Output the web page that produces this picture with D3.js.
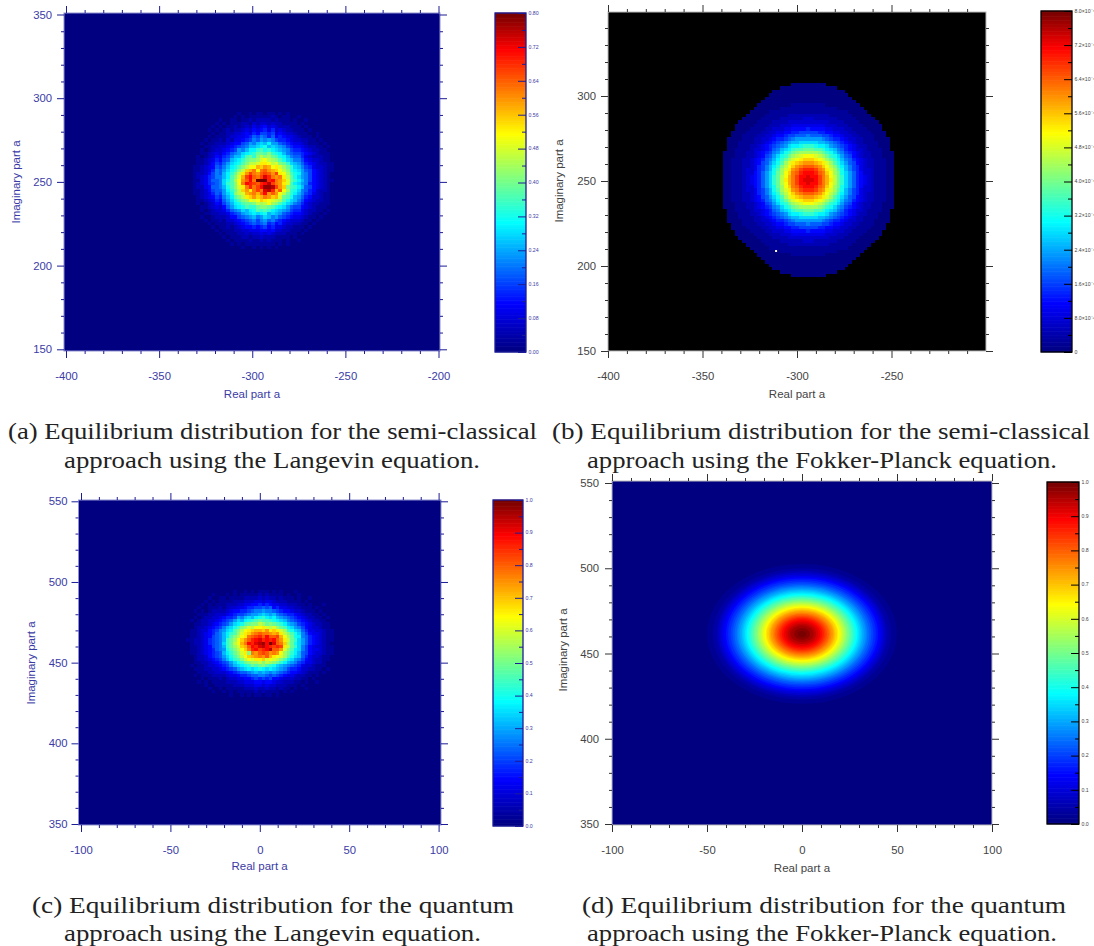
<!DOCTYPE html>
<html>
<head>
<meta charset="utf-8">
<script src="https://d3js.org/d3.v7.min.js"></script>
<style>
body { margin: 0; background: #fff; }
text { font-family: "Liberation Sans", Arial, sans-serif; }
.caption { font-family: "Liberation Serif", serif; fill: #222; }
</style>
</head>
<body>
<svg id="fig" width="1094" height="946"></svg>
<script>
const width = 1094;
const height = 946;

// rainbow colour table (fraction of bar, colour)
const jetStops = [0, 0.14, 0.38, 0.64, 0.89, 1];
const jetColors = ["#000080", "#0000ff", "#00ffff", "#ffff00", "#ff0000", "#700000"];

const xTicksSemi = [-400, -350, -300, -250, -200];
const yTicksSemi = [150, 200, 250, 300, 350];
const xTicksQuant = [-100, -50, 0, 50, 100];
const yTicksQuant = [350, 400, 450, 500, 550];
// plot (b) has no -200 and no 350 tick
const xTicksB = [-400, -350, -300, -250];
const yTicksB = [150, 200, 250, 300];

const barLabelsA = ["0.00", "0.08", "0.16", "0.24", "0.32", "0.40", "0.48", "0.56", "0.64", "0.72", "0.80"];
const barLabelsB = ["0", "8.0×10⁻⁵", "1.6×10⁻⁴", "2.4×10⁻⁴", "3.2×10⁻⁴", "4.0×10⁻⁴", "4.8×10⁻⁴", "5.6×10⁻⁴", "6.4×10⁻⁴", "7.2×10⁻⁴", "8.0×10⁻⁴"];
const barLabelsCD = ["0.0", "0.1", "0.2", "0.3", "0.4", "0.5", "0.6", "0.7", "0.8", "0.9", "1.0"];

// Histogram counts, one char per bin, base 36 (0 = bottom of colour bar, z = top)
const gridA = [
"0000000000" + "0000100101" + "1011010100" + "00000000000",
"0000000000" + "0001010111" + "1112101100" + "10000000000",
"0000000001" + "0011011212" + "2221211101" + "00100000000",
"0000000010" + "1011122132" + "3323221111" + "01000000000",
"0000000101" + "0112123243" + "4534322211" + "10100000000",
"0000001010" + "1212234354" + "5646343221" + "11010000000",
"0000000101" + "1223345465" + "7767454332" + "11100100000",
"0000001011" + "1233445687" + "9868565443" + "21110100000",
"0000010112" + "1324456798" + "a9a9766543" + "32211010000",
"0000101122" + "2345578a9b" + "cbdaa87654" + "43211101000",
"0000011223" + "3456789bbc" + "debcba9765" + "54322110100",
"0000101233" + "4567a9bddf" + "gefdcba976" + "65432211000",
"0000112343" + "5689acdefh" + "hgifedb987" + "76543211100",
"0001012354" + "679bbdghfi" + "kijhgedb98" + "86432221100",
"0001123465" + "78bcdfhiij" + "lmkjigecb9" + "97543321100",
"0001123576" + "8acdegikkl" + "nnmklihfcb" + "a8654322110",
"0011234587" + "9bdegikmmp" + "oqpmnljhfc" + "b9764332110",
"0011234698" + "acefikoprn" + "rsqpomkifd" + "ca875432110",
"0012235798" + "bdfhknqtrq" + "stsqtnmjge" + "da975432100",
"0012346799" + "bdgilptvsr" + "twurqrnkhe" + "ca975432100",
"0011346889" + "cegjmqsvrz" + "zzuvrqolhf" + "db975432110",
"0012346789" + "cfgimrvuts" + "uvxtrqnlgd" + "ca965432100",
"0012245889" + "begilnrurt" + "vyyxtqoigf" + "db875432100",
"0011235788" + "adfhkoqnrt" + "rwxupsmjfe" + "c9865322100",
"0011234687" + "aceiklpqrp" + "svqsqmkhfd" + "b9764321100",
"0001234576" + "9bdgiknoqo" + "prqoplhgeb" + "a8653321100",
"0001123465" + "8acegijmlm" + "onmlkjgecb" + "97543221100",
"0001012354" + "79bdeghhik" + "jkmjigecb9" + "86432211100",
"0000112343" + "58acdegffh" + "iihgedca87" + "75432111000",
"0000101233" + "4689acbdeg" + "fgfdcba976" + "64322110100",
"0000011223" + "34678abcdc" + "debcba8765" + "54321101000",
"0000100122" + "2355789ab9" + "acb9a87654" + "43211010000",
"0000010112" + "1334567897" + "9a89765433" + "32110100000",
"0000001011" + "1223456787" + "8967564332" + "21101000000",
"0000000101" + "1212345565" + "6756443221" + "11010000000",
"0000000010" + "1112233444" + "5545332211" + "10100000000",
"0000000001" + "0111223233" + "4343222111" + "01000000000",
"0000000000" + "1011122122" + "3222111101" + "00000000000",
"0000000000" + "0101111211" + "2121110100" + "10000000000",
"0000000000" + "0010101111" + "1111010100" + "00000000000",
"0000000000" + "0000010010" + "1010100000" + "00000000000"
];

const gridC = [
"0000000000" + "0001001010" + "1110101000" + "10000000000",
"0000000100" + "0101011111" + "2121111010" + "01000000000",
"0000001001" + "1011112222" + "3232212111" + "01001000000",
"0000010101" + "1112223334" + "4344322211" + "11010000000",
"0000101011" + "1222334455" + "6565443322" + "21101000100",
"0001001112" + "1233445667" + "7878564433" + "22111010000",
"0010101222" + "2345566789" + "9a99876554" + "33211101000",
"0001112233" + "34567789aa" + "bcbab98766" + "54322110100",
"0010122334" + "5667a9bcbd" + "efdcdba987" + "65432211010",
"0101223345" + "678acbdefg" + "hggfedcb98" + "76543221100",
"0011223456" + "78acdeghii" + "kjhihgfdba" + "97654322110",
"0012234567" + "9bcegijlkm" + "mnlkljhgdc" + "a9754332110",
"0112335679" + "acdgikmnop" + "poqnonljfe" + "cb864433211",
"0112345689" + "bdfgjlnoqr" + "srrqpqnkig" + "ec975443211",
"0112345789" + "bdgikmnrst" + "usvsstpmjh" + "ed986543211",
"1122346789" + "bfhjmoqsuv" + "wuvuvsqnkh" + "fca86543211",
"0122346789" + "cfhkmprvuw" + "xyvzwsrojh" + "eca86543210",
"0112345789" + "bfhjlopsvu" + "wxvututnkh" + "fc975433211",
"0112345689" + "aegikmoruv" + "tuvxssqlig" + "dc975443211",
"0112345678" + "bdfhjlnirq" + "stsqrqmjhf" + "db875433211",
"0012235678" + "acegikmopq" + "rqspnmljge" + "cb864332110",
"0012234567" + "9bdfgikmln" + "nolmlkigdc" + "a9754322110",
"0011223456" + "78acefhijj" + "kikjihfdba" + "97644322100",
"0101123345" + "679bcdefhg" + "higfecba98" + "76433211100",
"0011122334" + "5678abcdcd" + "edcdcba976" + "65332211010",
"0001112233" + "34567889ab" + "aba9a98765" + "54321110100",
"0010111222" + "2344566788" + "9987876544" + "32211010000",
"0000101112" + "1233445567" + "6767554333" + "22110100000",
"0001010111" + "1222334445" + "5455433222" + "11010010000",
"0000010011" + "1112223334" + "4343322211" + "10100000000",
"0000001001" + "0111112223" + "2232212110" + "10010000000",
"0000000100" + "1010111112" + "1211110101" + "00000000000",
"0000000000" + "0010010101" + "1011010000" + "00000000000"
];

// Plot (b) looks mirror symmetric, so only one quarter: first char is the
// centre column, first row the centre row, '.' is outside the solved region
const quarterB = [
"wwvtrpnkhfca86543211100",
"wvvtrpmkhfca86543211100",
"vvusromjheca86533211100",
"uutrqnljgeb976433211100",
"ssrqomkifdb976432211100",
"qqponljgeca875432211100",
"oonmljhfdb9865432211100",
"mmlkjhfeca8754322111000",
"jjjihfeca97654322111000",
"hhggfdcb98654332111100.",
"ffeddca987654322111000.",
"cccbba9876543221111000.",
"aaaa987665433221110000.",
"988877655433221111000..",
"777665544332211110000..",
"65555443332211110000...",
"44444333222111100000...",
"3333332222111100000....",
"332222221111100000.....",
"22222211111100000......",
"1111111111100000.......",
"111111110000000........",
"11111000000000.........",
"0000000000000..........",
"000000000000...........",
"00000000000............",
"0000000000.............",
"00000000...............",
"00000.................."
];

// Plot (d) is smooth: contour levels with their half widths in a and half heights
const ringLevels = [0.02,0.04,0.06,0.08,0.10,0.12,0.14,0.16,0.18,0.20,0.22,0.24,0.26,0.28,0.30,0.32,0.34,0.36,0.38,0.40,0.42,0.44,0.46,0.48,0.50,0.52,0.54,0.56,0.58,0.60,0.62,0.64,0.66,0.68,0.70,0.72,0.74,0.76,0.78,0.80,0.82,0.84,0.86,0.88,0.90,0.92,0.94,0.96,0.98,0.995];
const ringRx = [50,47,45,44,43,42,41,40,38.9,37.6,36.5,35.5,34.4,33.6,32.6,31.7,30.9,30.0,29.2,28.4,27.7,26.9,26.3,25.4,24.8,23.9,23.3,22.7,21.8,21.2,20.6,19.7,19.1,18.5,17.6,17.0,16.4,15.5,14.7,14.1,13.2,12.4,11.6,10.7,9.7,8.6,7.4,6.1,4.2,2.1];
const ringRy = [41,38.5,37,36,35,34,33.2,32.5,31.5,30.4,29.6,28.7,27.9,27.2,26.4,25.7,25.0,24.3,23.6,23.0,22.4,21.8,21.3,20.6,20.1,19.4,18.9,18.4,17.7,17.2,16.7,16.0,15.5,15.0,14.3,13.8,13.3,12.6,11.9,11.4,10.7,10.0,9.4,8.7,7.8,7.0,6.0,4.9,3.4,1.7];
const ringCenter = [0, 461.5];

const captionsA = ["(a) Equilibrium distribution for the semi-classical", "approach using the Langevin equation."];
const captionsB = ["(b) Equilibrium distribution for the semi-classical", "approach using the Fokker-Planck equation."];
const captionsC = ["(c) Equilibrium distribution for the quantum", "approach using the Langevin equation."];
const captionsD = ["(d) Equilibrium distribution for the quantum", "approach using the Fokker-Planck equation."];

const BLUE = {tick: "#1c1c96", text: "#3b3ba6", edge: "#8f8fd0", barEdge: "#1c1c96"};
const GREY = {tick: "#333333", text: "#444444", edge: "#bbbbbb", barEdge: "#000000"};

const svg = d3.select("#fig");

const jet = d3.scaleLinear().domain(jetStops).range(jetColors).clamp(true);

function minorTicks(domain)
{
    return d3.range(domain[0], domain[1] + 1, 10).filter(v => v % 50 !== 0);
}

function makePanel(p)
{
    let x = d3.scaleLinear().domain(p.xDomain).range(p.xRange);
    let y = d3.scaleLinear().domain(p.yDomain).range(p.yRange);
    let g = svg.append("g");
    let [left, top, right, bottom] = p.box;

    g.append("rect").attr("x", left).attr("y", top)
        .attr("width", right - left).attr("height", bottom - top)
        .attr("fill", p.background);

    if (p.grid)
    {
        let cells = [];
        p.grid.forEach((row, r) => {
            for (let c = 0; c < row.length; c++)
            {
                if (row[c] !== ".")
                {
                    cells.push({a: p.xStart + 2 * c, b: p.yTop - 2 * r, v: parseInt(row[c], 36) / 35});
                }
            }
        });
        g.selectAll(null).data(cells).join("rect")
            .attr("x", d => x(d.a))
            .attr("y", d => y(d.b))
            .attr("width", x(2) - x(0) + 0.4)
            .attr("height", y(0) - y(2) + 0.4)
            .attr("fill", d => jet(d.v))
            .attr("shape-rendering", "crispEdges");
    }

    if (p.rings)
    {
        g.selectAll(null).data(ringLevels).join("ellipse")
            .attr("cx", x(ringCenter[0]))
            .attr("cy", y(ringCenter[1]))
            .attr("rx", (d, i) => x(ringRx[i]) - x(0))
            .attr("ry", (d, i) => y(0) - y(ringRy[i]))
            .attr("fill", d => jet(d));
    }

    if (p.specks)
    {
        g.selectAll(null).data(p.specks).join("rect")
            .attr("x", d => x(d[0])).attr("y", d => y(d[1]))
            .attr("width", 2).attr("height", 2).attr("fill", "#fff");
    }

    g.append("rect").attr("x", left).attr("y", top)
        .attr("width", right - left).attr("height", bottom - top)
        .attr("fill", "none").attr("stroke", p.style.edge).attr("stroke-width", 1);

    // axes: major ticks first, then the small ones with no labels
    let xMinor = minorTicks(p.xDomain);
    let yMinor = minorTicks(p.yDomain);
    let drawAxis = (make, scale, major, minor, tx, ty, pad) =>
    {
        let a = g.append("g").attr("transform", `translate(${tx},${ty})`);
        a.call(make(scale).tickValues(major).tickSize(7).tickPadding(pad)
            .tickFormat(pad ? d => String(d) : ""));
        let b = g.append("g").attr("transform", `translate(${tx},${ty})`);
        b.call(make(scale).tickValues(minor).tickSize(3).tickFormat(""));
        [a, b].forEach(s => {
            s.select(".domain").remove();
            s.selectAll("line").attr("stroke", p.style.tick);
            s.selectAll("text").attr("fill", p.style.text).attr("font-size", 11.3)
                .attr("font-family", '"Liberation Sans", Arial, sans-serif');
        });
    };
    drawAxis(d3.axisBottom, x, p.xTicks, xMinor, 0, bottom, 13.5);
    drawAxis(d3.axisTop, x, p.xTicks, xMinor, 0, top, 0);
    drawAxis(d3.axisLeft, y, p.yTicks, yMinor, left, 0, p.padY);
    drawAxis(d3.axisRight, y, p.yTicks, yMinor, right, 0, 0);

    g.append("text").attr("x", p.xLabel[0]).attr("y", p.xLabel[1])
        .attr("text-anchor", "middle").attr("font-size", 11.5).attr("fill", p.style.text)
        .text("Real part a");
    g.append("text")
        .attr("transform", `translate(${p.yLabel[0]},${p.yLabel[1]}) rotate(-90)`)
        .attr("text-anchor", "middle").attr("font-size", 11.5).attr("fill", p.style.text)
        .text("Imaginary part a");

    makeBar(p);

    p.captions.forEach((t, i) => {
        svg.append("text").attr("class", "caption")
            .attr("x", p.capX[i][0]).attr("y", p.capY[i])
            .attr("textLength", p.capX[i][1] - p.capX[i][0])
            .attr("lengthAdjust", "spacingAndGlyphs")
            .attr("font-size", 22.5)
            .text(t);
    });
}

function makeBar(p)
{
    let [left, top, right, bottom] = p.bar;
    let g = svg.append("g");
    let barY = d3.scaleLinear().domain([0, 1]).range([bottom, top]);
    let slices = d3.range(0, 1, 0.004);
    g.selectAll(null).data(slices).join("rect")
        .attr("x", left).attr("width", right - left)
        .attr("y", d => barY(d + 0.004) - 0.3)
        .attr("height", barY(0) - barY(0.004) + 0.6)
        .attr("fill", d => jet(d));
    g.append("rect").attr("x", left).attr("y", top)
        .attr("width", right - left).attr("height", bottom - top)
        .attr("fill", "none").attr("stroke", p.style.barEdge).attr("stroke-width", 1.3);

    let majors = p.barLabels.map((d, i) => i / 10);
    let minors = d3.range(0.05, 1, 0.1);
    let a = g.append("g").attr("transform", `translate(${right},0)`);
    a.call(d3.axisLeft(barY).tickValues(majors).tickSize(8).tickFormat(""));
    let b = g.append("g").attr("transform", `translate(${right},0)`);
    b.call(d3.axisLeft(barY).tickValues(minors).tickSize(4).tickFormat(""));
    [a, b].forEach(s => {
        s.select(".domain").remove();
        s.selectAll("line").attr("stroke", p.style.barEdge);
    });
    g.selectAll(null).data(p.barLabels).join("text")
        .attr("x", right + 2.5)
        .attr("y", (d, i) => barY(majors[i]) + 1.8)
        .attr("font-size", 5.2)
        .attr("fill", p.style.text)
        .text(d => d);
}

// Flip the quarter out to the whole plot
function mirrorQuarter(q)
{
    let rows = q.map(s => s.padEnd(23, ".").slice(1).split("").reverse().join("") + s.padEnd(23, "."));
    return rows.slice(1).reverse().concat(rows);
}

makePanel({
    style: BLUE, background: "#000080", padY: 5,
    xDomain: [-400, -200], xRange: [66, 438.5],
    yDomain: [150, 350], yRange: [349.3, 14.5],
    box: [64, 13, 440, 351],
    grid: gridA, xStart: -336, yTop: 292,
    xTicks: xTicksSemi, yTicks: yTicksSemi,
    xLabel: [252, 398], yLabel: [20, 182],
    bar: [495, 13, 526, 352], barLabels: barLabelsA,
    captions: captionsA, capX: [[8, 537], [64, 480]], capY: [439, 468]
});

makePanel({
    style: GREY, background: "#000000", padY: 5,
    xDomain: [-400, -200], xRange: [608, 986],
    yDomain: [150, 350], yRange: [351, 11],
    box: [608, 12, 986, 351],
    grid: mirrorQuarter(quarterB), xStart: -339, yTop: 307.6,
    specks: [[-311.6, 209.4]],
    xTicks: xTicksB, yTicks: yTicksB,
    xLabel: [797, 398], yLabel: [563, 181],
    bar: [1041, 11, 1072, 352], barLabels: barLabelsB,
    captions: captionsB, capX: [[552, 1090], [587, 1057]], capY: [439, 468]
});

makePanel({
    style: BLUE, background: "#000080", padY: 4,
    xDomain: [-100, 100], xRange: [81, 438.6],
    yDomain: [350, 550], yRange: [824, 501.3],
    box: [78.5, 500, 441, 825],
    grid: gridC, xStart: -41, yTop: 495,
    xTicks: xTicksQuant, yTicks: yTicksQuant,
    xLabel: [259.6, 870], yLabel: [35, 663],
    bar: [493, 500, 523, 826], barLabels: barLabelsCD,
    captions: captionsC, capX: [[32, 514], [64, 481]], capY: [913, 941]
});

makePanel({
    style: GREY, background: "#000080", padY: 6,
    xDomain: [-100, 100], xRange: [612, 992],
    yDomain: [350, 550], yRange: [824, 483],
    box: [612, 481, 992, 825],
    rings: true,
    xTicks: xTicksQuant, yTicks: yTicksQuant,
    xLabel: [802, 872], yLabel: [567, 650],
    bar: [1047, 482, 1079, 824], barLabels: barLabelsCD,
    captions: captionsD, capX: [[582, 1066], [587, 1057]], capY: [913, 941]
});
</script>
</body>
</html>
